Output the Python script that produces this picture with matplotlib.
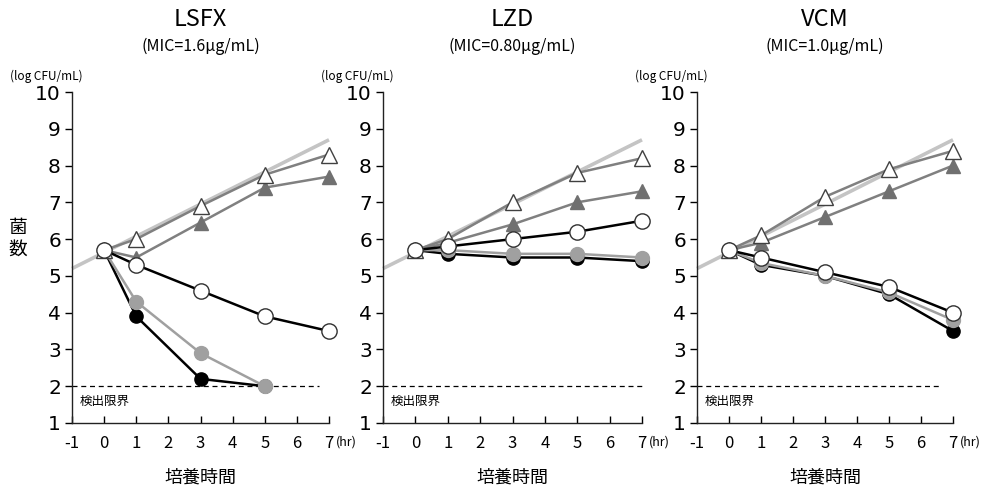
import matplotlib
matplotlib.use("Agg")
import matplotlib.pyplot as plt

plt.rcParams['font.family'] = ['Noto Sans CJK JP', 'DejaVu Sans']

hours = [0, 1, 3, 5, 7]
drugs = ["LSFX", "LZD", "VCM"]
mics = ["(MIC=1.6\u03bcg/mL)", "(MIC=0.80\u03bcg/mL)", "(MIC=1.0\u03bcg/mL)"]

growth_x = [-1, 7]
growth_y = [5.2, 8.7]

# series per drug: open triangle, filled triangle, open circle, gray circle, black circle
lsfx_open_tri = [5.7, 6.0, 6.9, 7.75, 8.3]
lsfx_fill_tri = [5.7, 5.5, 6.45, 7.4, 7.7]
lsfx_open_cir = [5.7, 5.3, 4.6, 3.9, 3.5]
lsfx_gray_cir = [5.7, 4.3, 2.9, 2.0]
lsfx_black_cir = [5.7, 3.9, 2.2, 2.0]

lzd_open_tri = [5.7, 6.0, 7.0, 7.8, 8.2]
lzd_fill_tri = [5.7, 5.9, 6.4, 7.0, 7.3]
lzd_open_cir = [5.7, 5.8, 6.0, 6.2, 6.5]
lzd_gray_cir = [5.7, 5.7, 5.6, 5.6, 5.5]
lzd_black_cir = [5.7, 5.6, 5.5, 5.5, 5.4]

vcm_open_tri = [5.7, 6.1, 7.15, 7.9, 8.4]
vcm_fill_tri = [5.7, 5.9, 6.6, 7.3, 8.0]
vcm_open_cir = [5.7, 5.5, 5.1, 4.7, 4.0]
vcm_gray_cir = [5.7, 5.35, 5.0, 4.55, 3.8]
vcm_black_cir = [5.7, 5.3, 5.0, 4.5, 3.5]

data = [
    (lsfx_open_tri, lsfx_fill_tri, lsfx_open_cir, lsfx_gray_cir, lsfx_black_cir),
    (lzd_open_tri, lzd_fill_tri, lzd_open_cir, lzd_gray_cir, lzd_black_cir),
    (vcm_open_tri, vcm_fill_tri, vcm_open_cir, vcm_gray_cir, vcm_black_cir),
]
dash_end = [6.7, 7.0, 6.6]

xticks = [-1, 0, 1, 2, 3, 4, 5, 6, 7]
yticks = list(range(1, 11))
limit = 2

fig = plt.figure(figsize=(9.82, 4.91), dpi=100)
positions = [
    (72 / 982, 1 - 423 / 491, 257 / 982, 331 / 491),
    (383 / 982, 1 - 423 / 491, 259 / 982, 331 / 491),
    (697 / 982, 1 - 423 / 491, 256 / 982, 331 / 491),
]

for i, (pos, d) in enumerate(zip(positions, data)):
    ax = fig.add_axes(pos)
    ot, ft, oc, gc, bc = d
    ax.plot(growth_x, growth_y, color='#c4c4c4', lw=2.6, zorder=1, solid_capstyle='butt')
    ax.plot([-1, dash_end[i]], [limit, limit], color='black', lw=0.9, ls=(0, (4, 3)), zorder=1)
    ax.plot(hours[:len(gc)], gc, color='#a0a0a0', lw=1.8, marker='o', ms=10,
            mfc='#a0a0a0', mec='#a0a0a0', zorder=3)
    ax.plot(hours[:len(bc)], bc, color='black', lw=1.8, marker='o', ms=9.5,
            mfc='black', mec='black', zorder=2.5)
    ax.plot(hours, ft, color='#808080', lw=1.8, marker='^', ms=10,
            mfc='#707070', mec='#707070', zorder=4)
    ax.plot(hours, ot, color='#808080', lw=1.8, marker='^', ms=11,
            mfc='white', mec='#404040', mew=1.0, zorder=5)
    ax.plot(hours, oc, color='black', lw=1.8, marker='o', ms=11,
            mfc='white', mec='#303030', mew=1.0, zorder=6)

    ax.set_xlim(-1, 7)
    ax.set_ylim(1, 10)
    for s in ['top', 'right']:
        ax.spines[s].set_visible(False)
    for s in ['left', 'bottom']:
        ax.spines[s].set_linewidth(1.0)
        ax.spines[s].set_color('#222222')
    ax.set_xticks(xticks)
    ax.set_yticks(yticks)
    ax.set_xticklabels([str(t) for t in xticks], fontsize=12, family=['Noto Sans CJK JP'])
    ax.set_yticklabels([str(t) for t in yticks], fontsize=14.5, family=['DejaVu Sans'])
    ax.tick_params(axis='x', direction='in', length=5, pad=9, width=1)
    ax.tick_params(axis='y', direction='out', length=5, pad=3, width=1)
    for ln in ax.lines:
        ln.set_clip_on(False)

    ax.annotate("(hr)", xy=(7, 1), xycoords='data', xytext=(5, -14),
                textcoords='offset points', fontsize=9, ha='left', va='center')
    ax.text(-0.75, 1.6, "検出限界", fontsize=9, ha='left', va='center')

    cx = pos[0] + pos[2] / 2
    fig.text(cx, 1 - 20 / 491, drugs[i], fontsize=17, ha='center', va='center')
    fig.text(cx, 1 - 46 / 491, mics[i], fontsize=11.5, ha='center', va='center')
    fig.text(pos[0] - 62 / 982, 1 - 76 / 491, "(log CFU/mL)", fontsize=8.5,
             ha='left', va='center')
    fig.text(cx, 1 - 478 / 491, "培養時間", fontsize=13, ha='center', va='center')

fig.text(18 / 982, 1 - 228 / 491, "菌", fontsize=13.5, ha='center', va='center')
fig.text(18 / 982, 1 - 249 / 491, "数", fontsize=13.5, ha='center', va='center')

fig.savefig("out.png", dpi=100)
